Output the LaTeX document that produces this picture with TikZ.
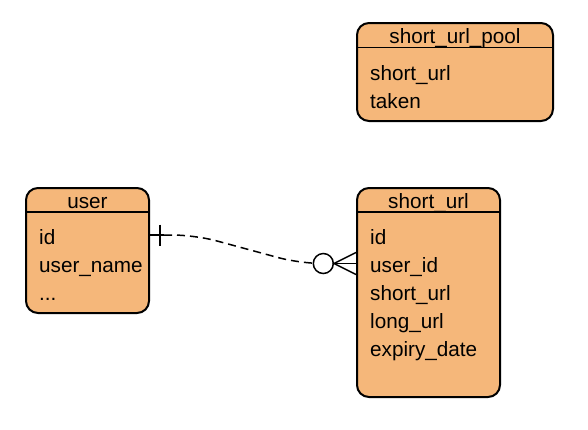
\documentclass[tikz,border=0pt]{standalone}
\usepackage{fontspec}
\setmainfont{Liberation Sans}
\definecolor{entfill}{HTML}{F5B77A}
\begin{document}
\begin{tikzpicture}[x=1pt,y=-1pt,
  entity/.style={draw=black, line width=2pt, fill=entfill, rounded corners=12pt, inner sep=0pt},
  hdr/.style={line width=1.5pt},
  ftxt/.style={anchor=base west, inner sep=0pt, font=\fontsize{20.7}{24}\selectfont},
  htxt/.style={anchor=base, inner sep=0pt, font=\fontsize{20.7}{24}\selectfont},
  conn/.style={line width=1.5pt, black}]
\useasboundingbox (0,0) rectangle (588,429);
% short_url_pool
\node[entity, minimum width=196pt, minimum height=98pt] (pool) at (455,72) {};
\draw[hdr] (357,47.5) -- (553,47.5);
\node[htxt] (poolh) at (455,43) {short\_url\_pool};
\node[ftxt] (pool1) at (370,80) {short\_url};
\node[ftxt] (pool2) at (370,108) {taken};
% user
\node[entity, minimum width=123pt, minimum height=125pt] (user) at (87.5,250.5) {};
\draw[hdr] (26,212) -- (149,212);
\node[htxt] (userh) at (87.5,208) {user};
\node[ftxt] (user1) at (39,244) {id};
\node[ftxt] (user2) at (39,272) {user\_name};
\node[ftxt] (user3) at (39,300) {...};
% short_url
\node[entity, minimum width=143pt, minimum height=209pt] (surl) at (428.5,292.5) {};
\draw[hdr] (357,212) -- (500,212);
\node[htxt] (surlh) at (428.5,208) {short\_url};
\node[ftxt] (s1) at (370,244) {id};
\node[ftxt] (s2) at (370,272) {user\_id};
\node[ftxt] (s3) at (370,300) {short\_url};
\node[ftxt] (s4) at (370,328) {long\_url};
\node[ftxt] (s5) at (370,356) {expiry\_date};
% connector
\coordinate (a0) at (user.east |- 0,235);
\coordinate (a1) at (164,235);
\coordinate (m1) at (195,235);
\coordinate (m2) at (300,263.5);
\coordinate (b1) at (313.3,263.5);
\coordinate (oc) at (323.3,263.5);
\coordinate (ct) at (334,263.5);
\coordinate (b0) at (surl.west |- 0,263.5);
\draw[conn] (a0) -- (a1);
\draw[conn] (160,224.5) -- (160,246);
\draw[conn, dash pattern=on 8pt off 5pt, rounded corners=22pt] (a1) -- (m1) -- (m2) -- (b1);
\draw[conn, fill=white] (oc) circle (10pt);
\draw[conn] (b0 |- 0,252.5) -- (ct) -- (b0 |- 0,274.5);
\draw[conn] (ct) -- (b0);
\end{tikzpicture}
\end{document}
